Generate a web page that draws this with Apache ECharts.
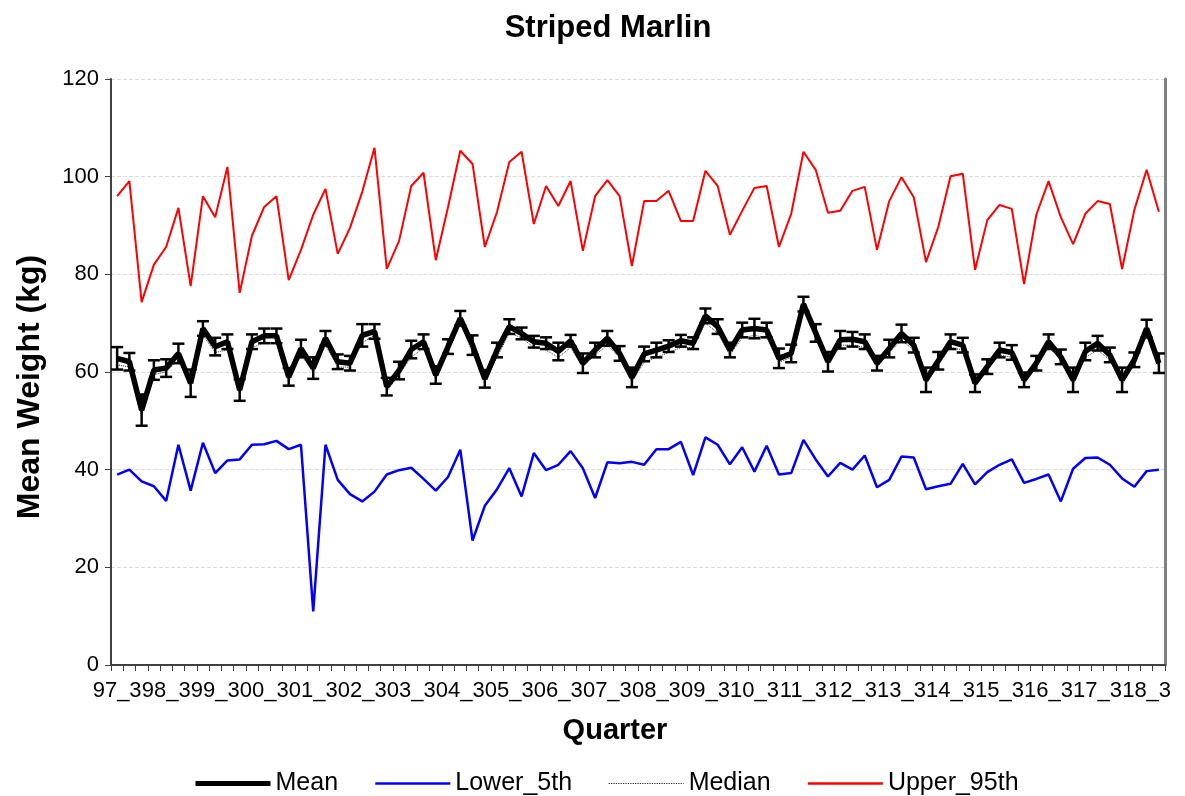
<!DOCTYPE html>
<html>
<head>
<meta charset="utf-8">
<script src="https://cdn.jsdelivr.net/npm/echarts@6/dist/echarts.min.js"></script>
<style>
html,body{margin:0;padding:0;background:#fff;}
#chart{width:1185px;height:796px;}
</style>
</head>
<body>
<div id="chart"></div>
<script>
var categories = ["97_3","97_4","98_1","98_2","98_3","98_4","99_1","99_2","99_3","99_4",
"00_1","00_2","00_3","00_4","01_1","01_2","01_3","01_4","02_1","02_2","02_3","02_4",
"03_1","03_2","03_3","03_4","04_1","04_2","04_3","04_4","05_1","05_2","05_3","05_4",
"06_1","06_2","06_3","06_4","07_1","07_2","07_3","07_4","08_1","08_2","08_3","08_4",
"09_1","09_2","09_3","09_4","10_1","10_2","10_3","10_4","11_1","11_2","11_3","11_4",
"12_1","12_2","12_3","12_4","13_1","13_2","13_3","13_4","14_1","14_2","14_3","14_4",
"15_1","15_2","15_3","15_4","16_1","16_2","16_3","16_4","17_1","17_2","17_3","17_4",
"18_1","18_2","18_3","18_4"];

var meanVals = [62.8,62.1,52.2,60.4,60.8,63.8,57.7,68.9,65.2,66.2,
56.3,66.2,67.4,67.4,59.0,64.8,60.8,66.9,62.1,61.8,
67.5,68.3,57.0,60.3,64.6,66.2,59.4,65.2,71.0,65.5,
58.6,64.5,69.3,67.9,66.2,65.9,64.2,66.4,61.8,64.5,
66.9,63.8,58.9,63.7,64.5,65.3,66.4,65.9,71.5,69.3,
64.5,68.6,68.9,68.6,62.8,63.8,73.9,68.0,62.1,66.6,
66.7,66.2,61.8,64.8,67.9,65.5,58.4,62.3,66.2,65.5,
57.7,61.1,64.5,64.0,58.4,61.8,66.2,63.1,58.4,64.2,
65.9,63.5,58.4,62.5,68.9,61.8];

var meanErr = [2.3,1.8,3.2,2.0,1.8,2.0,2.8,1.5,1.8,1.5,
2.2,1.5,1.5,1.5,1.8,1.8,2.2,1.5,1.5,1.5,
2.3,1.5,1.8,1.8,1.8,1.5,1.8,1.5,1.5,2.0,
1.8,1.5,1.5,1.2,1.2,1.2,1.8,1.2,2.0,1.5,
1.5,1.5,2.0,1.5,1.5,1.2,1.2,1.2,1.5,1.5,
1.5,1.5,2.0,1.5,2.0,1.8,1.5,1.8,2.0,1.8,
1.5,1.5,1.5,1.8,1.8,1.5,2.5,1.8,1.5,1.5,
1.8,1.5,1.5,1.5,1.5,1.5,1.5,1.5,2.5,1.8,
1.5,1.5,2.5,1.5,1.8,2.0];

var medianVals = [61.5,61.0,51.0,59.5,60.0,62.5,57.0,67.5,64.0,64.5,
55.5,65.0,66.0,66.0,58.0,63.5,60.0,65.5,61.0,61.0,
66.0,67.5,56.0,59.5,63.0,65.0,58.5,64.0,70.0,64.0,
58.0,63.0,68.0,67.0,65.0,64.5,63.0,65.0,61.0,63.5,
65.5,63.0,58.0,62.0,63.0,64.0,65.0,65.0,70.0,68.0,
63.5,67.0,67.5,67.0,62.0,63.0,72.5,67.0,61.5,65.5,
65.5,65.0,61.0,64.0,66.5,64.5,57.5,61.5,65.0,64.5,
57.0,60.5,63.5,63.0,57.5,61.0,65.0,62.5,57.5,63.0,
64.5,62.5,57.5,61.5,67.5,61.0];

var lowerVals = [39.0,40.0,37.6,36.6,33.6,45.1,35.7,45.5,39.3,41.9,
42.1,45.1,45.2,45.9,44.2,45.1,11.0,45.1,37.9,35.0,
33.5,35.5,39.0,39.9,40.4,38.1,35.7,38.5,44.1,25.5,
32.6,36.0,40.3,34.5,43.4,39.9,41.0,43.8,40.3,34.2,
41.5,41.3,41.6,41.0,44.2,44.2,45.7,38.9,46.6,45.1,
41.1,44.6,39.6,44.9,39.0,39.3,46.1,42.1,38.6,41.4,
40.0,42.9,36.4,37.9,42.7,42.5,36.0,36.6,37.1,41.2,
37.0,39.5,41.0,42.1,37.3,38.1,39.0,33.5,40.2,42.4,
42.5,41.0,38.2,36.5,39.7,40.0];

var upperVals = [96.0,99.1,74.3,82.0,85.6,93.6,77.6,96.0,91.7,102.0,
76.2,87.9,93.8,96.0,78.8,85.0,92.2,97.5,84.2,89.5,
96.9,105.9,81.1,86.8,98.1,100.8,82.9,93.8,105.3,102.6,
85.6,92.8,103.0,105.1,90.3,98.1,94.0,99.1,84.8,96.0,
99.3,96.0,81.7,95.0,95.0,97.1,90.9,90.9,101.2,98.1,
88.1,93.0,97.7,98.1,85.6,92.4,105.1,101.4,92.6,93.0,
97.1,97.9,85.0,95.0,99.9,95.8,82.5,89.7,100.1,100.6,
80.9,91.1,94.2,93.4,78.0,92.2,99.1,91.7,86.2,92.4,
95.0,94.4,81.1,93.2,101.4,92.8];

var yTicks = {min: 0, max: 120, interval: 20};

var FONT = "'Liberation Sans', Arial, sans-serif";
var chart = echarts.init(document.getElementById('chart'));

var errData = meanVals.map(function (m, i) { return [i, m - meanErr[i], m + meanErr[i]]; });

var option = {
  animation: false,
  backgroundColor: '#ffffff',
  title: {
    text: 'Striped Marlin',
    left: 603, top: 8, textAlign: 'center',
    textStyle: {fontFamily: FONT, fontSize: 31, fontWeight: 'bold', color: '#000'}
  },
  grid: {left: 111, right: 20, top: 79, bottom: 131, containLabel: false},
  legend: {
    left: 188, top: 766,
    itemWidth: 75, itemHeight: 14, itemGap: 36,
    itemStyle: {opacity: 0},
    textStyle: {fontFamily: FONT, fontSize: 25, color: '#000'},
    data: [
      {name: 'Mean', lineStyle: {width: 5}},
      {name: 'Lower_5th', lineStyle: {width: 2.5}},
      {name: 'Median', lineStyle: {width: 1.2, type: 'dotted', color: '#222222'}},
      {name: 'Upper_95th', lineStyle: {width: 2.5}}
    ]
  },
  graphic: [
    {type: 'text', x: 30, y: 387, rotation: Math.PI / 2,
     style: {text: 'Mean Weight (kg)', fontFamily: FONT, fontSize: 32, fontWeight: 'bold', fill: '#000', align: 'center', verticalAlign: 'middle'}},
    {type: 'text', x: 615, y: 731,
     style: {text: 'Quarter', fontFamily: FONT, fontSize: 29, fontWeight: 'bold', fill: '#000', align: 'center', verticalAlign: 'middle'}}
  ],
  xAxis: {
    type: 'category',
    data: categories,
    boundaryGap: true,
    axisLine: {lineStyle: {color: '#404040', width: 2}},
    axisTick: {show: true, interval: 0, length: 6, lineStyle: {color: '#404040'}},
    axisLabel: {interval: 3, fontFamily: FONT, fontSize: 22, color: '#000', margin: 15, hideOverlap: false},
    splitLine: {show: false}
  },
  yAxis: [{
    type: 'value', min: yTicks.min, max: yTicks.max, interval: yTicks.interval,
    axisLine: {show: true, lineStyle: {color: '#404040', width: 2}},
    axisTick: {show: true, length: 6, lineStyle: {color: '#404040'}},
    axisLabel: {fontFamily: FONT, fontSize: 22, color: '#000', margin: 12},
    splitLine: {show: true, lineStyle: {color: '#dcdcdc', type: 'dashed', width: 1}}
  }, {
    type: 'value', min: yTicks.min, max: yTicks.max, interval: yTicks.interval, position: 'right',
    axisLine: {show: true, lineStyle: {color: '#808080', width: 3}},
    axisTick: {show: false}, axisLabel: {show: false}, splitLine: {show: false}
  }],
  series: [
    {
      name: 'Upper_95th', type: 'line', data: upperVals, symbol: 'none',
      lineStyle: {color: '#ff0000', width: 2}, itemStyle: {color: '#ff0000'}, z: 2
    },
    {
      name: 'Lower_5th', type: 'line', data: lowerVals, symbol: 'none',
      lineStyle: {color: '#0000ff', width: 2.5}, itemStyle: {color: '#0000ff'}, z: 2
    },
    {
      name: 'Median', type: 'line', data: medianVals, symbol: 'none',
      lineStyle: {color: '#333333', width: 1, type: 'dotted'}, itemStyle: {color: '#333333'}, z: 3
    },
    {
      name: 'Mean', type: 'line', data: meanVals, symbol: 'none',
      lineStyle: {color: '#000000', width: 5.5}, itemStyle: {color: '#000000'}, z: 5
    },
    {
      name: 'errbars', type: 'custom', data: errData, z: 4,
      encode: {x: 0, y: [1, 2]},
      renderItem: function (params, api) {
        var i = api.value(0);
        var lo = api.coord([i, api.value(1)]);
        var hi = api.coord([i, api.value(2)]);
        var w = 6;
        var st = {stroke: '#000', lineWidth: 2.5};
        return {
          type: 'group',
          children: [
            {type: 'line', shape: {x1: lo[0], y1: lo[1], x2: hi[0], y2: hi[1]}, style: st},
            {type: 'line', shape: {x1: lo[0] - w, y1: lo[1], x2: lo[0] + w, y2: lo[1]}, style: st},
            {type: 'line', shape: {x1: hi[0] - w, y1: hi[1], x2: hi[0] + w, y2: hi[1]}, style: st}
          ]
        };
      }
    }
  ]
};
chart.setOption(option);
</script>
</body>
</html>
